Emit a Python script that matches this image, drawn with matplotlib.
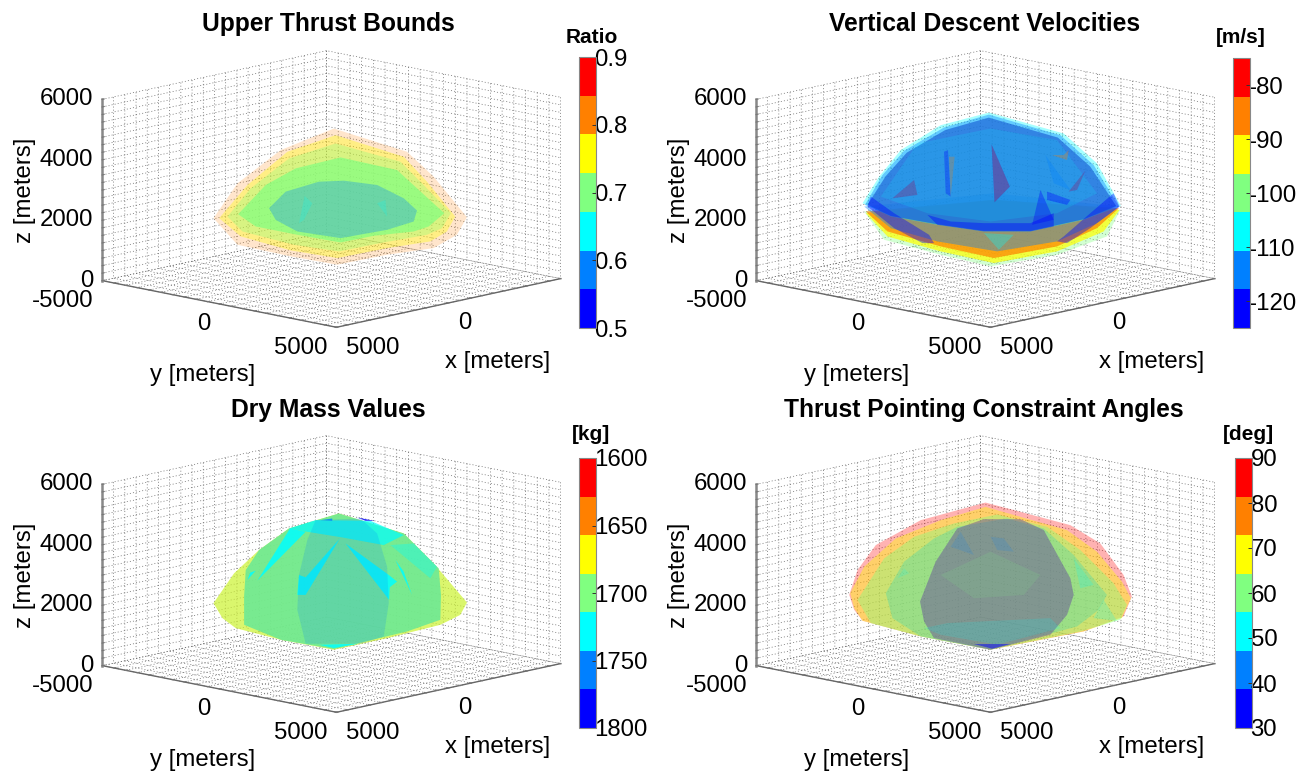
import numpy as np
import matplotlib
matplotlib.use('Agg')
import matplotlib.pyplot as plt
from matplotlib.cm import ScalarMappable
from matplotlib.colors import ListedColormap, Normalize
from mpl_toolkits.mplot3d.art3d import Poly3DCollection

plt.rcParams['font.family'] = ['Liberation Sans', 'DejaVu Sans']
plt.rcParams['axes.unicode_minus'] = False
plt.rcParams['grid.color'] = '#666666'
plt.rcParams['grid.linewidth'] = 0.5
plt.rcParams['grid.linestyle'] = ':'
plt.rcParams['lines.dotted_pattern'] = [1.5, 3.0]

level_colors = ['#0000ff', '#0080ff', '#00ffff', '#80ff80', '#ffff00', '#ff8000', '#ff0000']

# each face of the domes: across = metres along the viewing plane, alt = altitude
thrust_across = [
    [-3641, -2902, -1569, 73, 2330, 3151, 4177, 3869, 3151, 1715, 176, -1261, -2902],
    [-3467, -2595, -1363, 124, 2228, 2946, 3818, 3561, 3048, 1715, 176, -1261, -2800],
    [-3210, -2492, -1312, 124, 2125, 2843, 3684, 3408, 2946, 1612, 227, -1158, -2749],
    [-2882, -2030, -1107, 278, 2022, 2638, 3479, 2997, 2535, 1304, 278, -1056, -2338],
    [-1928, -1415, -389, 381, 1407, 2228, 2638, 2535, 1715, 278, -1056, -1723],
    [-1004, -830, -594, -850],
    [1407, 1663, 1715],
]
thrust_alt = [
    [2033, 3187, 4286, 5000, 4231, 3407, 2066, 1484, 1044, 824, 494, 769, 1154],
    [2033, 3132, 4231, 4780, 4066, 3242, 2088, 1593, 1264, 1044, 714, 967, 1428],
    [2088, 3022, 4011, 4506, 3901, 3132, 2198, 1703, 1484, 1231, 934, 1154, 1593],
    [2165, 3132, 3681, 4044, 3627, 3022, 2198, 1758, 1593, 1451, 1231, 1484, 1758],
    [2363, 2912, 3242, 3275, 3132, 2692, 2286, 1923, 1648, 1374, 1593, 1978],
    [1868, 2769, 2527, 1978],
    [2527, 2637, 2088],
]
thrust_val = [0.81, 0.76, 0.70, 0.70, 0.59, 0.64, 0.64]
thrust_alpha = [0.2, 0.35, 0.3, 0.7, 0.3, 0.2, 0.2]

velocity_across = [
    [-3744, -3128, -1384, 155, 2207, 3746, 4157, 258],
    [-3692, -3025, -1384, 258, 2207, 3644, 4136, 258],
    [-3692, -3025, -1384, 258, 2207, 3438, 4116, 258],
    [-3744, -2923, -1486, 360, 2207, 3438, 4136, 258],
    [-3795, -3282, -2615, -1384, 104, 2412, 3438, 4177, 3028, 1386, -50, -1486, -2923],
    [-3723, -3179, -2512, -1281, 104, 2310, 3336, 4105, 3028, 1386, -50, -1486, -2923],
    [-3640, -3080, -2430, -1240, 100, 2230, 3230, 4030, 3028, 1386, -50, -1486, -2923],
    [-3640, -3080, -2430, -1240, 100, 2230, 3230, 4030, 3028, 1386, -50, -1486, -2923],
    [-3640, -3080, -2430, -1240, 100, 2230, 3230, 4030, 3028, 1386, -50, -1486, -2923],
    [-3231, -2102, 155, 2207, 3438, 2207, 155, -1794],
    [-1794, -1076, -50, 1386, 2105, 2105, 1386, -50, -1486],
    [186, 750, 278],
    [-2205, -2102, -2872],
    [-1281, -1158, -1076, -1230],
    [-1127, -953, -1076],
    [3079, 2566, 2823],
    [1899, 2618, 2515, 1899],
    [2412, 2566, 2515, 2053],
    [1848, 2618, 2105],
    [1694, 2105, 1438],
    [-3538, -2820, -1743, -1589, -1948, -2820, -3641],
    [3951, 3233, 2412, 2207, 2515, 3233, 4136],
    [-50, 873, 412],
    [186, 750, 278],
    [-2205, -2102, -2872],
    [3079, 2566, 2823],
]
velocity_alt = [
    [2253, 1319, 825, 440, 825, 1429, 2308, 2638],
    [2198, 1429, 935, 550, 935, 1594, 2308, 2638],
    [2253, 1594, 1099, 715, 1099, 1704, 2363, 2638],
    [2418, 1704, 1264, 935, 1264, 1869, 2418, 2858],
    [2528, 3407, 4286, 5111, 5528, 4836, 3847, 2440, 1979, 1594, 1594, 1814, 2088],
    [2473, 3462, 4264, 5034, 5462, 4781, 3792, 2440, 2001, 1616, 1616, 1836, 2111],
    [2480, 3420, 4200, 4950, 5360, 4700, 3740, 2440, 2001, 1616, 1616, 1836, 2111],
    [2480, 3420, 4200, 4950, 5360, 4700, 3740, 2440, 2001, 1616, 1616, 1836, 2111],
    [2480, 3420, 4200, 4950, 5360, 4700, 3740, 2440, 2001, 1616, 1616, 1836, 2111],
    [2748, 4506, 5001, 4616, 2858, 2198, 1924, 2198],
    [2144, 1924, 1869, 1869, 2198, 1759, 1594, 1594, 1814],
    [4473, 3078, 2561],
    [3297, 2803, 2693],
    [4232, 4287, 2748, 2858],
    [4067, 4067, 2748],
    [3605, 2913, 2968],
    [2913, 2638, 2473, 2638],
    [4122, 4287, 3957, 4122],
    [4122, 2968, 3188],
    [2968, 1979, 1814],
    [2748, 2198, 1484, 1209, 1209, 1704, 2418],
    [2858, 2198, 1429, 1264, 1209, 1704, 2418],
    [1539, 1484, 990],
    [4473, 3078, 2561],
    [3297, 2803, 2693],
    [3605, 2913, 2968],
]
velocity_val = [-100, -93, -86, -114, -107, -114, -114, -86, -121, -107, -121, -121, -121, -121, -86,
                -121, -121, -86, -114, -121, -121, -121, -107, -86, -86, -86]
velocity_alpha = [0.35, 0.7, 0.7, 0.4, 0.35, 0.4, 0.7, 0.12, 0.1, 0.15, 0.4, 0.45, 0.3, 0.3, 0.25,
                  0.3, 0.35, 0.3, 0.3, 0.35, 0.4, 0.4, 0.3, 0.25, 0.2, 0.2]

mass_across = [
    [-3641, -3005, -2235, -1312, 227, 2228, 3151, 4177, 3972, 3356, 1715, 73, -1569, -2954, -3364],
    [-3641, -3005, -2235, -1312, 227, 2228, 3151, 4177, 3972, 3356, 1715, 73, -1569, -2954, -3364],
    [-3641, -3005, -2235, -1312, 227, 2228, 3151, 4177, 3972, 3356, 1715, 73, -1569, -2954, -3364],
    [-2697, -2646, -2235, -1312, 227, 2228, 3305, 3377, 3356, 2330, 73, -1569, -2697],
    [-2697, -2646, -2235, -1312, 227, 2228, 3305, 3377, 3356, 2330, 73, -1569, -2697],
    [-1312, -491, 1202, 2228, 1612, 330, -748],
    [-799, -2287, -1281],
    [258, -799, -1056, -1004, -799],
    [432, 1766, 2022, 1797, 1776],
    [1971, 2484, 2228],
    [1817, 3048, 3254, 2535],
    [-2595, -2338, -2512],
    [-389, 842, 73],
    [-337, 22, 22],
    [791, 1325, 1048],
    [-491, 894, 1407, 1715, 1766, 1612, 894, -799, -1056, -1004, -748],
]
mass_alt = [
    [2033, 3022, 3792, 4506, 5000, 4341, 3352, 2055, 1648, 1319, 879, 494, 824, 1209, 1539],
    [2033, 3022, 3792, 4506, 5000, 4341, 3352, 2055, 1648, 1319, 879, 494, 824, 1209, 1539],
    [2033, 3022, 3792, 4506, 5000, 4341, 3352, 2055, 1648, 1319, 879, 494, 824, 1209, 1539],
    [2253, 3132, 3792, 4506, 5000, 4341, 3187, 2308, 1484, 1099, 516, 824, 1319],
    [2253, 3132, 3792, 4506, 5000, 4341, 3187, 2308, 1484, 1099, 516, 824, 1319],
    [4506, 4781, 4759, 4286, 3956, 4209, 4396],
    [4396, 2780, 4506],
    [4176, 2308, 2308, 2967, 2890],
    [4011, 2967, 2747, 2561, 2143],
    [3462, 2308, 3077],
    [3956, 2857, 3242, 4011],
    [2802, 3110, 3044],
    [659, 692, 549],
    [4781, 4836, 4759],
    [4868, 4759, 4759],
    [4781, 4836, 4341, 3242, 2033, 934, 692, 692, 1813, 2967, 4121],
]
mass_val = [1671, 1700, 1643, 1700, 1757, 1729, 1729, 1729, 1729, 1729, 1729, 1729, 1729, 1757, 1786, 1757]
mass_alpha = [0.55, 0.3, 0.07, 0.85, 0.15, 0.7, 0.85, 0.85, 0.85, 0.85, 0.35, 0.85, 0.85, 0.8, 0.8, 0.18]

angle_across = [
    [-4206, -3949, -3385, -2000, 0, 2617, 3541, 4259, 4516, 4259, 3028, 155, -2000, -3795, -4052],
    [-4175, -3744, -2769, -1384, 0, 2515, 3438, 4208, 4485, 4208, 3028, 155, -2000, -3795, -4052],
    [-3949, -3128, -2205, -974, 360, 1899, 2925, 3951, 4362, 4156, 2925, 155, -2000, -3539],
    [-3077, -2513, -1589, -871, 668, 1797, 2720, 3233, 3746, 3490, 2823, 155, -2000, -2872],
    [-3077, -2513, -1589, -871, 668, 1797, 2720, 3233, 3746, 3490, 2823, 155, -2000, -2872],
    [-2020, -1538, -871, -50, 1078, 1797, 2617, 2720, 2515, 2002, 155, -1589, -1897],
    [-2020, -1538, -871, -50, 1078, 1797, 2617, 2720, 2515, 2002, 155, -1589, -1897],
    [155, 565, 873, 360],
    [-1076, -768, -358],
    [-1897, -1179, 2002, 2310, 360, -1384],
    [-358, 771, 206],
    [2720, 3336, 2925],
    [3643, 4054, 3336],
    [-2513, -2359, -2718],
    [-1384, 155, 1694, 1181, -358],
]
angle_alt = [
    [2308, 3132, 3957, 4781, 5363, 4616, 4011, 2967, 2253, 1594, 1099, 495, 934, 1451, 1813],
    [2363, 3242, 4176, 4781, 5220, 4451, 3737, 2748, 2198, 1539, 1099, 495, 934, 1451, 1868],
    [2143, 3517, 4231, 4671, 4968, 4561, 3792, 2693, 1978, 1484, 1099, 495, 934, 1374],
    [2363, 3407, 4176, 4561, 4836, 4506, 3627, 2967, 2308, 1813, 1264, 495, 934, 1539],
    [2363, 3407, 4176, 4561, 4836, 4506, 3627, 2967, 2308, 1813, 1264, 495, 934, 1539],
    [2088, 3407, 4506, 4814, 4814, 4451, 2858, 2308, 1649, 989, 495, 879, 1429],
    [2088, 3407, 4506, 4814, 4814, 4451, 2858, 2308, 1649, 989, 495, 879, 1429],
    [4231, 4176, 3737, 3792],
    [3901, 4396, 3627],
    [1209, 1374, 1539, 1209, 660, 989],
    [682, 682, 528],
    [3517, 2638, 2528],
    [2143, 1451, 1539],
    [3187, 3022, 2858],
    [2967, 3737, 2967, 2308, 2198],
]
angle_val = [86, 69, 60, 60, 43, 34, 77, 43, 43, 51, 34, 51, 51, 51, 60]
angle_alpha = [0.3, 0.4, 0.4, 0.35, 0.12, 0.3, 0.15, 0.15, 0.15, 0.15, 0.5, 0.2, 0.2, 0.15, 0.12]

titles = ['Upper Thrust Bounds', 'Vertical Descent Velocities',
          'Dry Mass Values', 'Thrust Pointing Constraint Angles']
bar_titles = ['Ratio', '[m/s]', '[kg]', '[deg]']
bar_ranges = [(0.5, 0.9), (-125, -75), (1600, 1800), (30, 90)]
bar_ticks = [[0.5, 0.6, 0.7, 0.8, 0.9],
             [-120, -110, -100, -90, -80],
             [1600, 1650, 1700, 1750, 1800],
             [30, 40, 50, 60, 70, 80, 90]]
bar_labels = [['0.5', '0.6', '0.7', '0.8', '0.9'],
              ['-120', '-110', '-100', '-90', '-80'],
              ['1600', '1650', '1700', '1750', '1800'],
              ['30', '40', '50', '60', '70', '80', '90']]

faces = [(thrust_across, thrust_alt, thrust_val, thrust_alpha),
         (velocity_across, velocity_alt, velocity_val, velocity_alpha),
         (mass_across, mass_alt, mass_val, mass_alpha),
         (angle_across, angle_alt, angle_val, angle_alpha)]

# layout, pixels from the top left of the picture
FIG_W, FIG_H = 1309, 771
AX_SIZE = 520
AX_DRAWN = 440  # 3d axes ends up smaller than the box it gets
ELEV, AZIM = 12, 43.75
box_centers = [(324.5, 196), (978.5, 196), (324.5, 581), (978.5, 581)]
title_pos = [(328, 26), (984, 26), (328, 412), (983, 412)]
bar_boxes = [(579, 57, 17, 271), (1233, 58, 17, 270), (579, 458, 17, 270), (1235, 458, 17, 270)]
bar_title_x = [592, 1241, 591, 1248]
bar_title_pad = [10, 11, 13, 13]

fig = plt.figure(figsize=(FIG_W / 100, FIG_H / 100), dpi=100)
az = np.radians(AZIM)

for i in range(4):
    cx, cy = box_centers[i]
    ax = fig.add_axes([(cx - AX_SIZE / 2) / FIG_W, (FIG_H - cy - AX_SIZE / 2) / FIG_H,
                       AX_SIZE / FIG_W, AX_SIZE / FIG_H],
                      projection='3d', proj_type='ortho', computed_zorder=False)
    ax.patch.set_alpha(0)
    ax.view_init(elev=ELEV, azim=AZIM)
    ax.set_box_aspect((1, 1, 0.572), zoom=0.923)
    ax.set_xlim(-5000, 5000)
    ax.set_ylim(-5000, 5000)
    ax.set_zlim(0, 6000)

    cmap = ListedColormap(level_colors)
    if i == 2:
        cmap = cmap.reversed()
    norm = Normalize(*bar_ranges[i])

    across, alt, vals, alphas = faces[i]
    for k in range(len(across)):
        t = np.array(across[k], dtype=float)
        xs = -t * np.sin(az)
        ys = t * np.cos(az)
        rgba = list(cmap(norm(vals[k])))
        rgba[3] = alphas[k]
        poly = Poly3DCollection([list(zip(xs, ys, alt[k]))], facecolors=[rgba],
                                edgecolors='none', linewidths=0, zorder=k + 5)
        ax.add_collection3d(poly, autolim=False)

    # every grid line has a tick, only a few carry a label
    xy_ticks = np.arange(-5000, 5001, 500)
    z_ticks = np.arange(0, 6001, 250)
    ax.set_xticks(xy_ticks)
    ax.set_xticklabels(['0' if v == 0 else '5000' if v == 5000 else '' for v in xy_ticks])
    ax.set_yticks(xy_ticks)
    ax.set_yticklabels([str(v) if v in (-5000, 0, 5000) else '' for v in xy_ticks])
    ax.set_zticks(z_ticks)
    ax.set_zticklabels([str(v) if v % 2000 == 0 else '' for v in z_ticks])
    ax.tick_params(labelsize=17.3, pad=0, colors='black')
    ax.tick_params(axis='z', pad=-4)
    ax.zaxis.set_ticks_position('lower')
    ax.zaxis.set_label_position('lower')

    for axis, ha in ((ax.xaxis, 'left'), (ax.yaxis, 'right'), (ax.zaxis, 'right')):
        axis.set_pane_color((1, 1, 1, 0))
        axis.pane.set_edgecolor((1, 1, 1, 0))
        axis.line.set_color('#666666')
        axis.line.set_linewidth(1.0)
        axis._axinfo['tick']['inward_factor'] = 0.02
        axis._axinfo['tick']['outward_factor'] = 0.1
        axis.set_tick_params(color='#777777')
        axis.set_rotate_label(False)
        for tick in axis.get_major_ticks():
            tick.label1.set_ha(ha)
    for tick in ax.zaxis.get_major_ticks():
        tick.label1.set_va('center')
    ax.zaxis.line.set_color('#888888')
    ax.zaxis.line.set_linewidth(1.8)

    # the 3d axis resets label alignment at draw time from _axinfo
    ax.xaxis._axinfo['label']['va'] = 'top'
    ax.yaxis._axinfo['label']['ha'] = 'left'
    ax.set_xlabel('x [meters]', fontsize=17.3, labelpad=20)
    ax.set_ylabel('y [meters]', fontsize=17.3, labelpad=39.5)
    ax.set_zlabel('z [meters]', fontsize=17.3, labelpad=12, rotation=90)

    tx, ty = title_pos[i]
    ax.set_title(titles[i], fontsize=17.7, fontweight='bold', va='center',
                 x=0.5 + (tx - cx) / AX_DRAWN, y=0.5 + (cy - ty) / AX_DRAWN)

    bx, by, bw, bh = bar_boxes[i]
    cax = fig.add_axes([bx / FIG_W, (FIG_H - by - bh) / FIG_H, bw / FIG_W, bh / FIG_H])
    cb = fig.colorbar(ScalarMappable(norm=norm, cmap=cmap), cax=cax)
    cb.set_ticks(bar_ticks[i], labels=bar_labels[i])
    cax.tick_params(direction='in', length=3, width=0.7, pad=-1, labelsize=17.3, color='#333333')
    cb.outline.set_edgecolor('#888888')
    cb.outline.set_linewidth(0.8)
    if i == 2:
        cax.invert_yaxis()
    cax.set_title(bar_titles[i], fontsize=15, fontweight='bold', pad=bar_title_pad[i],
                  x=(bar_title_x[i] - bx) / bw)

fig.savefig('out.png', dpi=100)
